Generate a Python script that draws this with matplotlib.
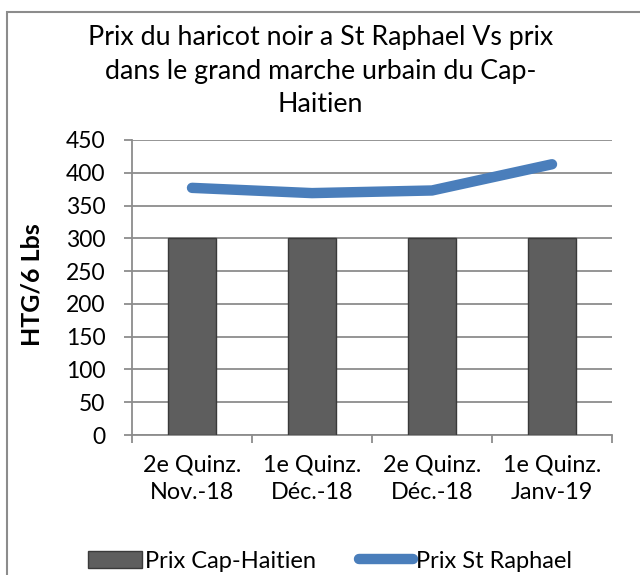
import matplotlib
matplotlib.use("Agg")
import matplotlib.pyplot as plt
import numpy as np
from matplotlib.patches import Rectangle

categories = ["2e Quinz.\nNov.-18", "1e Quinz.\nDéc.-18", "2e Quinz.\nDéc.-18", "1e Quinz.\nJanv-19"]
prix_cap_haitien = [300, 300, 300, 300]
prix_st_raphael = [377, 369, 373, 413]
yticks = [0, 50, 100, 150, 200, 250, 300, 350, 400, 450]

plt.rcParams['font.family'] = ['Lato', 'DejaVu Sans']

fig = plt.figure(figsize=(6.4, 5.75), dpi=100)
ax = fig.add_axes([132/640, 1-435/575, (612-132)/640, (435-140)/575])

x = np.arange(len(categories))
bars = ax.bar(x, prix_cap_haitien, width=0.4, color="#5e5e5e", edgecolor="#3a3a3a",
              linewidth=1.0, zorder=3, label="Prix Cap-Haitien")
line, = ax.plot(x, prix_st_raphael, color="#4a7ebb", linewidth=7.5, solid_capstyle="round",
                zorder=4, label="Prix St Raphael")

ax.set_xlim(-0.5, len(categories) - 0.5)
ax.set_ylim(0, 450)
ax.set_yticks(yticks)
ax.yaxis.grid(True, color="#8c8c8c", linewidth=1.3, zorder=0)
ax.set_axisbelow(True)

ax.set_xticks(x)
ax.set_xticklabels(categories, fontsize=16.8, linespacing=1.4)
ax.tick_params(axis='x', length=0, pad=14)
ax.set_xticks(np.arange(-0.5, len(categories), 1.0), minor=True)
ax.tick_params(axis='x', which='minor', length=6, color="#8c8c8c", width=1.3, direction='out')
ax.tick_params(axis='y', labelsize=16.5, length=6, color="#8c8c8c", width=1.3, pad=13)

for s in ['top', 'right']:
    ax.spines[s].set_visible(False)
for s in ['left', 'bottom']:
    ax.spines[s].set_color("#8c8c8c")
    ax.spines[s].set_linewidth(1.3)

ax.set_ylabel("HTG/6 Lbs", fontsize=18, fontweight='bold')
ax.yaxis.set_label_coords((44-132)/480, 0.51)

fig.text(320.5/640, 1 - 71/575,
         "Prix du haricot noir a St Raphael Vs prix\ndans le grand marche urbain du Cap-\nHaitien",
         ha='center', va='center', fontsize=19.3, linespacing=1.42)

leg = fig.legend(handles=[bars, line], labels=["Prix Cap-Haitien", "Prix St Raphael"],
                 loc='center', bbox_to_anchor=(330/640, 1 - 561/575), ncol=2, frameon=False,
                 fontsize=17, handlelength=2.3, handletextpad=0.12, columnspacing=1.8)

fig.patches.append(Rectangle((7/640, -0.05), 2.0, 1 - 12/575 + 0.05, transform=fig.transFigure,
                             fill=False, edgecolor="#8c8c8c", linewidth=1.5, zorder=0))

fig.savefig("out.png", dpi=100)
